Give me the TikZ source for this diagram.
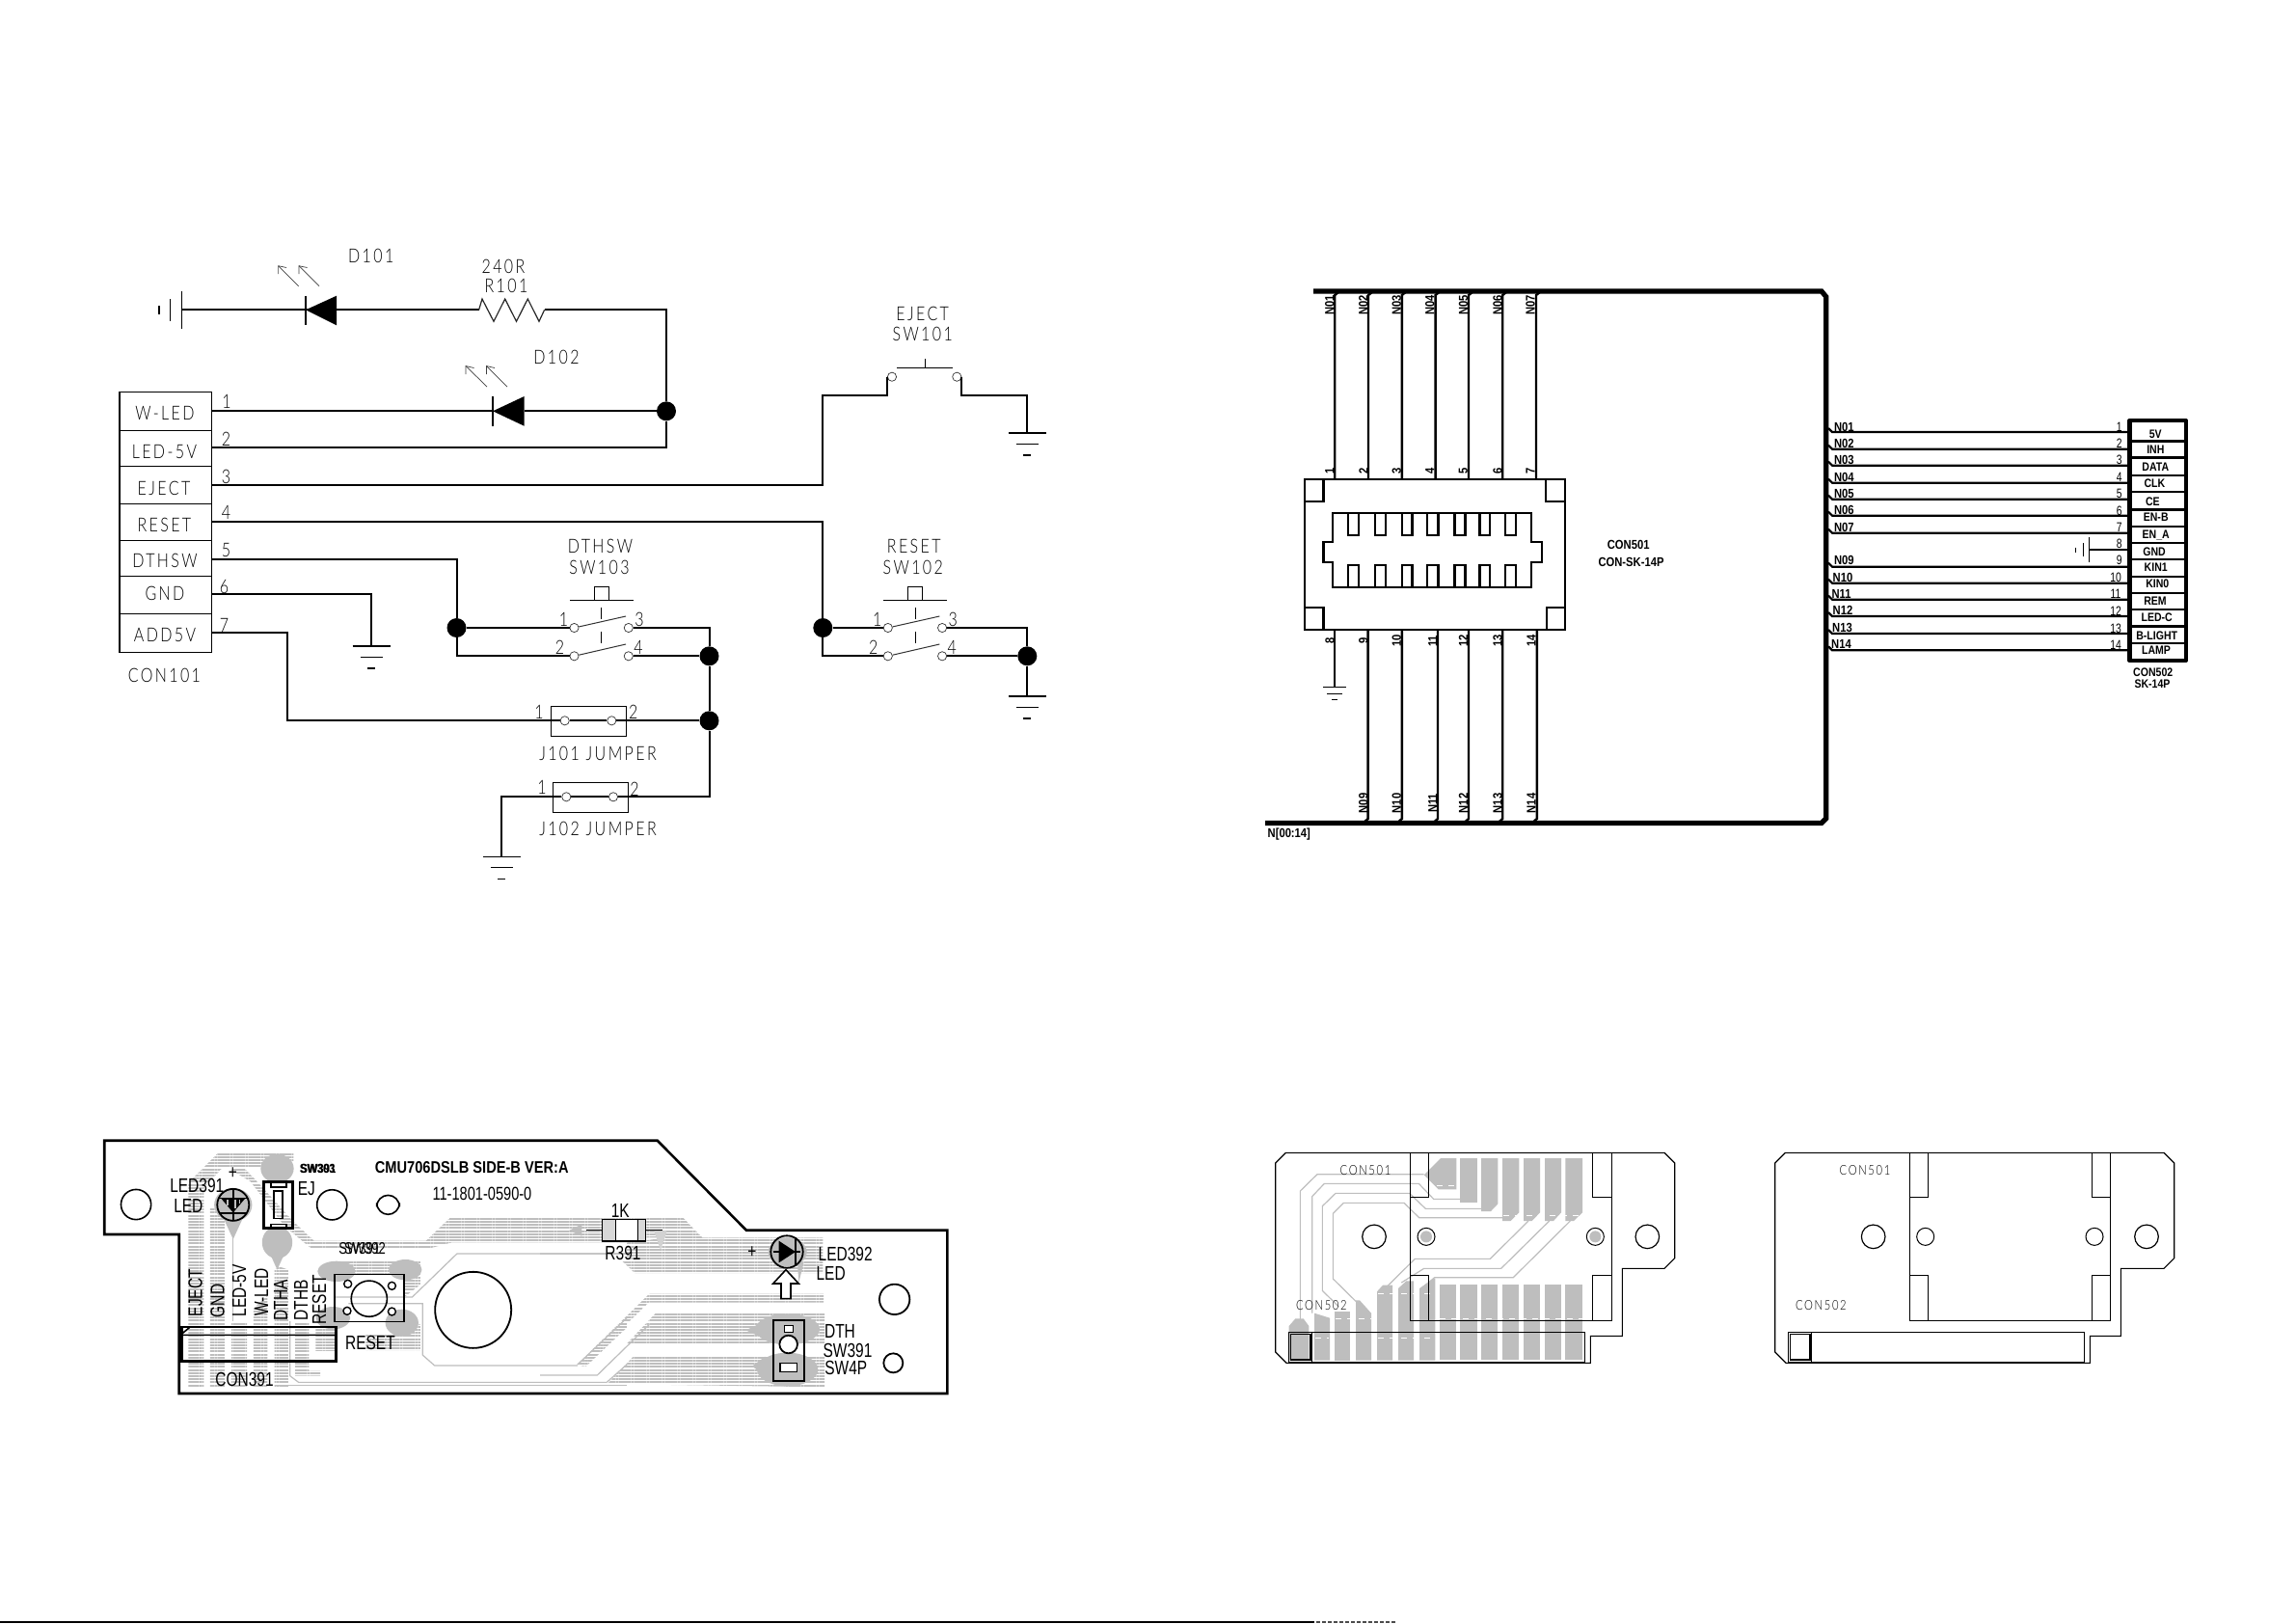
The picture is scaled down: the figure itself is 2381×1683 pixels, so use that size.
\documentclass[tikz,border=0pt]{standalone}
\usepackage{fontspec}
\usetikzlibrary{patterns.meta}
\newfontfamily\cadf[FakeStretch=.8,LetterSpace=12]{Lato Light}
\newfontfamily\bldf[FakeStretch=.85]{Liberation Sans}
\newfontfamily\pcbf[FakeStretch=.76]{Liberation Sans}
\definecolor{trace}{HTML}{BEBEBE}
\tikzset{
 wire/.style={line width=1pt,black},
 thin wire/.style={line width=.5pt,black},
 sym/.style={line width=.6pt,black},
 bus/.style={line width=2.6pt,black},
 dot/.style={circle,fill=black,draw=none,minimum size=10pt,inner sep=0pt},
 contact/.style={circle,draw=black!80,line width=.35pt,minimum size=4.6pt,inner sep=0pt},
 cad/.style={font=\cadf\fontsize{10}{11}\selectfont,inner sep=0pt,text=black},
 cadn/.style={font=\cadf\fontsize{10}{11}\selectfont,inner sep=0pt,text=black},
 bld/.style={font=\bldf\bfseries\fontsize{6.2}{7}\selectfont,inner sep=0pt},
 bldn/.style={font=\bldf\bfseries\fontsize{6.6}{7}\selectfont,inner sep=0pt},
 bldl/.style={font=\bldf\bfseries\fontsize{6.6}{7}\selectfont,inner sep=0pt},
 rnum/.style={font=\pcbf\fontsize{6.8}{7}\selectfont,inner sep=0pt},
 pcb/.style={font=\pcbf\fontsize{10.2}{11}\selectfont,inner sep=0pt},
 pcbh/.style={font=\bldf\bfseries\fontsize{8.6}{9}\selectfont,inner sep=0pt},
 pcbs/.style={font=\cadf\fontsize{7}{8}\selectfont,inner sep=0pt},
 hatch/.style={draw=none,pattern={Lines[angle=0,distance=1.6pt,line width=1pt]},pattern color=trace},
 pad/.style={fill=trace,draw=none},
 thintrace/.style={draw=trace,line width=.6pt},
 pcbline/.style={line width=.8pt,black},
 pcbthick/.style={line width=1.3pt,black},
}
\newcommand\gndsym[2]{% x, y of top bar
 \draw[sym] (#1-19.5,#2) -- (#1+19.5,#2);
 \draw[sym] (#1-11.5,#2+11.3) -- (#1+11.5,#2+11.3);
 \draw[sym] (#1-4,#2+23) -- (#1+4,#2+23);
}
\newcommand\dpdtsw[4]{% prefix, x-left contact, label1, label2
 \begin{scope}[shift={(#2,0)}]
  \node[contact] (#1a) at (0,651) {};
  \node[contact] (#1b) at (56.3,651) {};
  \node[contact] (#1c) at (0,680.3) {};
  \node[contact] (#1d) at (56.3,680.3) {};
  \draw[thin wire,black!80] (#1a) -- (53.5,639);
  \draw[thin wire,black!80] (#1c) -- (53.5,668);
  \draw[thin wire] (28.2,630) -- (28.2,642) (28.2,655) -- (28.2,667);
  \draw[thin wire] (-4.5,622.3) -- (61.2,622.3);
  \draw[thin wire] (20.8,622.3) |- (35.9,608.3) -- (35.9,622.3);
  \node[cad] at (27,566) {#3};
  \node[cad] at (26,588.3) {#4};
  \node[cadn] at (-11,642.7) {1};
  \node[cadn] at (67.5,642.7) {3};
  \node[cadn] at (-15,671.7) {2};
  \node[cadn] at (66.5,671) {4};
 \end{scope}
}
\begin{document}
\begin{tikzpicture}[x=.5pt,y=-.5pt]
\useasboundingbox (0,0) rectangle (2381,1683);
\fill[white] (0,0) rectangle (2381,1683);

%%% ---------- Schematic 1 ----------
\draw[thin wire,line width=.75pt] (124,406.7) rectangle (219.5,676.3);
\foreach \yy in {446.7,483.3,522.3,560.7,597.3,636.3}
  \draw[thin wire,line width=.75pt] (124,\yy) -- (219.5,\yy);
\foreach \ty/\tx/\lab in {428/171/W-LED,468.3/170.4/LED-5V,506.3/170/EJECT,544.7/170.4/RESET,581.3/171/DTHSW,615/171/GND,658.3/171/ADD5V,700/170.4/CON101}
  \node[cad] at (\tx,\ty) {\lab};
\foreach \tx/\ty/\lab in {235/416/1,234.4/455/2,234.4/494/3,234.4/531.7/4,234.4/570/5,232.5/608/6,232.5/648/7}
  \node[cadn] at (\tx,\ty) {\lab};
\coordinate (p1) at (219.5,426.3);
\coordinate (p2) at (219.5,464.3);
\coordinate (p3) at (219.5,502.7);
\coordinate (p4) at (219.5,541.3);
\coordinate (p5) at (219.5,580.3);
\coordinate (p6) at (219.5,616.3);
\coordinate (p7) at (219.5,656.3);
% D101 chain
\coordinate (bat) at (188.6,321.3);
\draw[sym] (188.6,302.3) -- (188.6,340.7);
\draw[sym] (176.3,310) -- (176.3,332.7);
\draw[sym] (165,317.3) -- (165,326);
\coordinate (d1k) at (317,321.3);
\coordinate (d1a) at (349,321.3);
\fill (d1k) -- (349,306.7) -- (349,337.3) -- cycle;
\draw[sym] (317,306.7) -- (317,337.3);
\draw[wire] (bat) -- (d1a);
\coordinate (r1a) at (496.6,321.3);
\coordinate (r1b) at (564.6,321.3);
\draw[wire] (d1a) -- (r1a);
\draw[sym,black!85] (r1a) -- (500,310) -- (512,333.3) -- (523.7,310) -- (535.5,333.3) -- (547.3,310) -- (559,333.3) -- (r1b);
\node[dot] (j1) at (691,426.3) {};
\draw[wire] (r1b) -- (691,321.3) -- (j1);
\draw[wire] (j1) -- (691,464.3) -- (p2);
\foreach \a/\b in {309.6/288.6,331/310}{
  \draw[line width=.35pt,black!75] (\a,296.7) -- (\b,275.7);
  \draw[line width=.35pt,black!75] (\b,284) -- (\b,275.7) -- (\b+8.5,277.5);
}
\node[cad] at (384.7,265.7) {D101};
\node[cad] at (522,276) {240R};
\node[cad] at (525,296) {R101};
% D102
\coordinate (d2k) at (511,426.3);
\coordinate (d2a) at (543.6,426.3);
\fill (d2k) -- (543.6,411) -- (543.6,441.7) -- cycle;
\draw[sym] (511,411) -- (511,441.7);
\draw[wire] (p1) -- (d2k);
\draw[wire] (d2a) -- (j1);
\foreach \a/\b in {505/483,526/504.5}{
  \draw[line width=.35pt,black!75] (\a,401) -- (\b,379.5);
  \draw[line width=.35pt,black!75] (\b,388) -- (\b,379.5) -- (\b+8.5,381.5);
}
\node[cad] at (577,370) {D102};
% GND pin 6
\coordinate (g6) at (385,670);
\draw[wire] (p6) -- (385,616.3) -- (g6);
\gndsym{385}{670}
% SW101
\node[contact] (s1a) at (925,390.7) {};
\node[contact] (s1b) at (992.3,390.7) {};
\draw[wire] (p3) -- (853.3,502.7) -- (853.3,410) -- (920,410) -- (920,390.7);
\draw[wire] (997.3,390.7) -- (997.3,410) -- (1065.3,410) -- (1065.3,449);
\gndsym{1065.3}{449}
\draw[thin wire] (930,381) -- (987.7,381);
\draw[thin wire] (959.3,372) -- (959.3,381);
\node[cad] at (956.7,325.7) {EJECT};
\node[cad] at (956.7,346.7) {SW101};
% SW103
\dpdtsw{sa}{595.5}{DTHSW}{SW103}
\node[dot] (j5) at (473.5,651) {};
\node[dot] (j3a) at (735.5,680.3) {};
\node[dot] (j3b) at (735.5,747.3) {};
\draw[wire] (p5) -- (473.5,580.3) -- (j5);
\draw[wire] (j5) -- (saa);
\draw[wire] (j5) -- (473.5,680.3) -- (sac);
\draw[wire] (sab) -- (735.5,651) -- (j3a);
\draw[wire] (sad) -- (j3a);
\draw[wire] (j3a) -- (j3b);
\draw[wire] (j3b) -- (735.5,826.3) -- (651.4,826.3);
% J101
\node[contact] (j1a) at (585.7,747.3) {};
\node[contact] (j1b) at (634.3,747.3) {};
\draw[thin wire,line width=.75pt] (571.4,732.3) rectangle (649.4,763.3);
\draw[wire] (p7) -- (298,656.3) -- (298,747.3) -- (j1a);
\draw[wire] (j1a) -- (j1b) -- (j3b);
\node[cadn] at (559,738) {1};
\node[cadn] at (656.7,738) {2};
\node[cad] at (620,781) {J101 JUMPER};
% J102
\node[contact] (j2a) at (587.3,826.3) {};
\node[contact] (j2b) at (636,826.3) {};
\draw[thin wire,line width=.75pt] (573.5,811.3) rectangle (651.4,842.3);
\draw[wire] (j2a) -- (j2b) -- (735.5,826.3);
\draw[wire] (j2a) -- (520.4,826.3) -- (520.4,888.3);
\gndsym{520.4}{888.3}
\node[cadn] at (562,816.7) {1};
\node[cadn] at (658,818) {2};
\node[cad] at (620,859.3) {J102 JUMPER};
% SW102
\dpdtsw{sb}{920.8}{RESET}{SW102}
\node[dot] (j4) at (853.3,651) {};
\node[dot] (j6) at (1065.3,680.3) {};
\draw[wire] (p4) -- (853.3,541.3) -- (j4);
\draw[wire] (j4) -- (sba);
\draw[wire] (j4) -- (853.3,680.3) -- (sbc);
\draw[wire] (sbb) -- (1065.3,651) -- (j6);
\draw[wire] (sbd) -- (j6);
\draw[wire] (j6) -- (1065.3,722);
\gndsym{1065.3}{722}

%%% ---------- Schematic 2 ----------
\draw[bus,line join=miter] (1362,302) -- (1889,302) -- (1893.7,307.7) -- (1893.7,848.6) -- (1889,853.4) -- (1312,853.4);
\draw[line width=1.1pt] (1353,496.7) rectangle (1623,653.3);
\draw[line width=1.1pt] (1353,520) -| (1372.4,496.7);
\draw[line width=1.1pt] (1623,520) -| (1603,496.7);
\draw[line width=1.1pt] (1353,630) -| (1372.4,653.3);
\draw[line width=1.1pt] (1623,630) -| (1604,653.3);
\draw[line width=1.1pt] (1381.9,532.3) -- (1588.3,532.3) -- (1588.3,562) -- (1599.3,562) -- (1599.3,583.3) -- (1588.3,583.3) -- (1588.3,609) -- (1381.9,609) -- (1381.9,583.3) -- (1372.4,583.3) -- (1372.4,562) -- (1381.9,562) -- cycle;
\foreach \a/\b in {1397.7/1408.7,1425.7/1437.2,1453.8/1464.5,1479.9/1491.4,1508.4/1519.5,1534.5/1545.2,1561/1572}{
  \draw[line width=1.1pt] (\a,532.3) rectangle (\b,554.8);
  \draw[line width=1.1pt] (\a,585.7) rectangle (\b,609);
}
\foreach \xx/\n/\tx/\lab/\num in {1384.2/1/1378.7/N01/1,1419/2/1413.9/N02/2,1453.8/3/1448.3/N03/3,1488.6/4/1482.7/N04/4,1523/5/1517.5/N05/5,1558.2/6/1553/N06/6,1593/7/1587/N07/7}{
  \coordinate (ct\n) at (\xx,496.7);
  \draw[wire,line width=1.2pt] (ct\n) -- (\xx,306) -- (\xx+5,302);
  \node[bldl,rotate=90] at (\tx,316.4) {\lab};
  \node[bldn,rotate=90] at (\tx,488) {\num};
}
\foreach \xx/\n/\tx/\lab/\num in {1418.6/9/1413.9/N09/9,1453.8/10/1448.3/N10/10,1491/11/1485.8/N11/11,1523/12/1517.5/N12/12,1558.2/13/1553/N13/13,1593.8/14/1588/N14/14}{
  \coordinate (cb\n) at (\xx,653.3);
  \draw[wire,line width=1.2pt] (cb\n) -- (\xx,849) -- (\xx-5,853.4);
  \node[bldl,rotate=90] at (\tx,832.8) {\lab};
  \node[bldn,rotate=90] at (\tx,664.7) {\num};
}
\node[bldn,rotate=90] at (1379,664.7) {8};
\coordinate (cb8) at (1384.2,653.3);
\draw[wire] (cb8) -- (1384.2,712);
\draw[thin wire] (1372.4,712) -- (1396,712) (1376,719) -- (1392,719) (1381,725.6) -- (1387.4,725.6);
\node[bldl] at (1688.7,565) {CON501};
\node[bldl] at (1691.5,583.3) {CON-SK-14P};
\node[bldl] at (1336.8,865.2) {N[00:14]};
% CON502
\draw[line width=2.2pt,line join=round] (2208.3,436) rectangle (2266.7,685);
\foreach \yy in {457.3,474.3,492.7,510,528.3,546,562.7,580,597.7,614.7,632,649.3,666.7}
  \draw[line width=1.2pt] (2208.3,\yy) -- (2266.7,\yy);
\foreach \tx/\ty/\lab in {2235.3/450/5V,2235.3/466/INH,2235.3/484.3/DATA,2234.3/501.7/CLK,2232.3/520.7/CE,2235.7/536.7/EN-B,2235.7/555/EN\_A,2234/572.3/GND,2235.7/588.7/KIN1,2237.3/605.7/KIN0,2235/623.3/REM,2236.7/640.7/LED-C,2236.7/659.3/B-LIGHT,2236/674.3/LAMP}
  \node[bld] at (\tx,\ty) {\lab};
\node[bld] at (2232.7,697.7) {CON502};
\node[bld] at (2232,709) {SK-14P};
\foreach \wy/\lx/\ly/\lab in {448/1912.3/442.7/N01,465.7/1912.3/459.7/N02,482.7/1912.3/477.3/N03,500.7/1912.3/494.7/N04,517.7/1912.3/512/N05,534.7/1912.3/529.3/N06,552.7/1912.3/546.7/N07,587.7/1912.3/581.3/N09,604.7/1911/598.7/N10,621.7/1909.5/616.3/N11,639/1911/633.3/N12,657/1910.5/650.7/N13,674.3/1909.5/668/N14}{
  \draw[wire,line width=1.1pt] (1896,\wy-4) -- (1900,\wy) -- (2208.3,\wy);
  \node[bldl] at (\lx,\ly) {\lab};
}
\foreach \ny/\lab in {442.7/1,460/2,477.3/3,494.7/4,512/5,529.7/6,546.7/7,564/8,581.3/9}
  \node[rnum] at (2197.7,\ny) {\lab};
\foreach \ny/\lab in {599.3/10,616.3/11,634/12,651.3/13,668.7/14}
  \node[rnum] at (2194,\ny) {\lab};
\coordinate (g8) at (2166.7,569.7);
\draw[wire] (2208.3,569.7) -- (g8);
\draw[thin wire] (2166.7,557) -- (2166.7,582.7) (2160,563) -- (2160,577) (2152,567.7) -- (2152,573.3);

%%% ---------- PCB A (long board) ----------
\begin{scope}[shift={(90,1170)},xscale=1/2.8,yscale=1/3]
 \path[hatch] (295,805) -- (340,805) -- (340,185) -- (392,125) -- (525,125) -- (525,103) -- (600,103) -- (600,78) -- (380,78) -- (295,170) -- cycle;
 \path[hatch] (358,805) -- (400,805) -- (400,250) -- (358,250) -- cycle;
 \path[hatch] (420,805) -- (465,805) -- (465,600) -- (420,600) -- cycle;
 \path[hatch] (484,805) -- (525,805) -- (525,520) -- (484,560) -- cycle;
 \path[hatch] (545,805) -- (585,805) -- (585,440) -- (560,430) -- (545,440) -- cycle;
 \path[hatch] (605,770) -- (678,770) -- (678,755) -- (645,755) -- (645,600) -- (605,600) -- cycle;
 \path[hatch] (665,612) -- (720,612) -- (720,690) -- (665,690) -- cycle;
 \path[hatch] (720,410) -- (970,410) -- (970,485) -- (922,525) -- (922,455) -- (720,455) -- cycle;
 \path[hatch] (810,690) -- (970,690) -- (970,610) -- (922,610) -- (922,640) -- (810,640) -- cycle;
 \path[hatch] (440,105) -- (490,160) -- (600,290) -- (660,350) -- (985,350) -- (1055,278) -- (1568,278) -- (1568,355) -- (1060,355) -- (1000,372) -- (650,372) -- (575,305) -- (475,165) -- (420,130) -- cycle;
 \fill[trace] (553,125) ellipse (48 and 45);
 \fill[trace] (553,355) ellipse (44 and 50);
 \fill[trace] (530,385) -- (576,385) -- (553,440) -- cycle;
 \fill[trace] (425,238) ellipse (55 and 52);
 \fill[trace] (395,275) -- (455,275) -- (425,345) -- cycle;
 \draw[thintrace] (425,330) -- (425,600);
 \fill[trace] (725,445) ellipse (55 and 32);
 \fill[trace] (925,440) ellipse (48 and 32);
 \fill[trace] (715,590) ellipse (50 and 35);
 \fill[trace] (915,605) ellipse (48 and 42);
 \draw[thintrace] (1568,390) -- (1075,390) -- (945,525) -- (720,525);
 \draw[thintrace] (760,545) -- (975,545) -- (975,705) -- (1010,738) -- (1425,738);
 \draw[thintrace] (590,600) -- (590,770) -- (615,790) -- (1510,790);
 \draw[thintrace] (1425,735) -- (1568,590) (1510,790) -- (1568,735);
 \draw[thintrace] (545,800) -- (1568,800);
 \path[hatch] (1425,735) -- (1450,740) -- (1568,620) -- (1568,590) -- cycle;
 \node[draw,line width=.8pt,circle,inner sep=0,minimum size=15.6pt] (h1) at (143,237) {};
 \node[draw,line width=.8pt,circle,inner sep=0,minimum size=15.6pt] (h2) at (712,238) {};
 \draw[pcbline,rounded corners=6pt] (842,208) rectangle (908,268);
 \node[draw,line width=.9pt,circle,inner sep=0,minimum size=16.5pt] (l1) at (425,238) {};
 \fill (390,218) -- (460,218) -- (425,262) -- cycle;
 \draw[pcbline] (425,190) -- (425,285);
 \draw[pcbline] (385,218) -- (465,218) (385,264) -- (465,264);
 \draw[trace,line width=.8pt] (408,222) -- (408,240) (432,222) -- (432,250) (444,222) -- (444,235);
 \draw[pcbthick] (514,167) rectangle (597,310);
 \draw[pcbline] (543,195) rectangle (568,280);
 \draw[pcbline,fill=white] (535,170) rectangle (580,183);
 \draw[pcbline,fill=white] (535,298) rectangle (580,308);
 \draw[pcbline] (719,455) rectangle (922,602);
 \node[draw,line width=.8pt,circle,inner sep=0,minimum size=18.6pt] (rsw) at (820,530) {};
 \foreach \a/\b in {758/484,886/490,756/568,886/570}
   \node[draw,line width=.7pt,circle,inner sep=0,minimum size=4pt,fill=white] at (\a,\b) {};
 \node[draw,line width=.9pt,circle,inner sep=0,minimum size=39.5pt] (bighole) at (1122,565) {};
 \draw[pcbthick] (275,618) rectangle (723,725);
 \draw[line width=1.6pt] (275,618) -- (275,725);
 \draw[pcbline] (275,643) -- (723,643) (275,640) -- (298,620);
 \node[pcbh] at (1118,122) {CMU706DSLB SIDE-B VER:A};
 \node[pcbh,font=\pcbf\fontsize{9.6}{10}\selectfont] at (1148,204) {11-1801-0590-0};
 \node[pcb] at (320,177) {LED391};
 \node[pcb] at (295,240) {LED};
 \node[pcb] at (424,140) {+};
 \node[pcb] at (638,188) {EJ};
 \node[bldl] at (670,125) {SW303};
 \node[bldl] at (672,125) {SW391};
 \node[pcb,font=\pcbf\fontsize{8.6}{9}\selectfont] at (792,375) {SW391};
 \node[pcb,font=\pcbf\fontsize{8.6}{9}\selectfont] at (808,375) {SW392};
 \node[pcb] at (823,667) {RESET};
 \node[pcb] at (458,780) {CON391};
 \foreach \tx/\ty/\lab in {315/512/EJECT,380/537/GND,443/505/LED-5V,507/510/W-LED,563/535/DTHA,622/535/DTHB,675/533/RESET}
   \node[pcb,rotate=90] at (\tx,\ty) {\lab};
\end{scope}
\begin{scope}[shift={(560,1170)},xscale=1/3,yscale=1/3]
 \path[hatch] (270,278) -- (445,278) -- (505,340) -- (880,340) -- (880,450) -- (295,450) -- (255,412) -- (270,412) -- (270,355) -- (400,340) -- (270,340) -- cycle;
 \path[hatch] (340,515) -- (882,515) -- (882,542) -- (338,542) -- (135,740) -- (115,735) -- cycle;
 \path[hatch] (360,575) -- (885,575) -- (885,670) -- (270,670) -- cycle;
 \path[hatch] (290,710) -- (885,710) -- (885,805) -- (210,795) -- cycle;
 \draw[thintrace] (270,390) -- (0,390) (0,768) -- (178,768) -- (340,610);
 \fill[trace] (770,385) ellipse (60 and 45);
 \fill[trace] (770,625) ellipse (100 and 48);
 \fill[trace] (770,750) ellipse (95 and 52);
 \fill[trace] (640,628) -- (700,600) -- (700,655) -- cycle;
 \fill[trace] (660,740) -- (700,710) -- (700,770) -- cycle;
 \fill[trace] (90,318) -- (130,298) -- (130,335) -- cycle;
 \fill[trace] (800,400) -- (820,420) -- (805,480) -- cycle;
 \fill[trace!70] (355,320) -- (395,320) -- (375,378) -- cycle;
 \fill[white] (236,285) rectangle (304,350);
 \fill[trace!60] (193,284) rectangle (235,351);
 \fill[trace!60] (305,284) rectangle (328,351);
 \draw[pcbline] (193,284) rectangle (328,351);
 \draw[pcbline] (235,284) -- (235,351) (305,284) -- (305,351);
 \draw[pcbline] (145,317) -- (193,317) (328,317) -- (380,317);
 \node[pcb] at (250,255) {1K};
 \node[pcb] at (258,388) {R391};
 \node[draw,line width=.9pt,circle,inner sep=0,minimum size=16.7pt] (l2) at (768,384) {};
 \fill (743,350) -- (743,418) -- (795,384) -- cycle;
 \draw[pcbline] (795,340) -- (795,428) (725,384) -- (810,384);
 \node[pcb] at (660,385) {+};
 \node[pcb] at (950,390) {LED392};
 \node[pcb] at (905,450) {LED};
 \draw[pcbline,fill=white] (765,440) -- (805,483) -- (780,483) -- (780,530) -- (750,530) -- (750,483) -- (725,483) -- cycle;
 \node[draw,line width=.9pt,circle,inner sep=0,minimum size=15.7pt] (h3) at (1103,532) {};
 \node[draw,line width=.9pt,circle,inner sep=0,minimum size=10pt] (h4) at (1099,730) {};
 \draw[pcbthick,line width=1pt] (727,596) rectangle (823,785);
 \draw[pcbline,fill=white] (760,614) rectangle (788,634);
 \node[draw,line width=.9pt,circle,inner sep=0,minimum size=9.3pt,fill=white] (s4) at (773,672) {};
 \draw[pcbline,fill=white] (747,730) rectangle (800,758);
 \node[pcb] at (933,632) {DTH};
 \node[pcb] at (957,690) {SW391};
 \node[pcb] at (952,745) {SW4P};
\end{scope}
\draw[pcbthick] (108.2,1182.7) -- (681.7,1182.7) -- (774,1275.7) -- (982.3,1275.7) -- (982.3,1445) -- (185.7,1445) -- (185.7,1280) -- (108.2,1280) -- cycle;

%%% ---------- Board B (with copper) ----------
\begin{scope}[shift={(1310,1180)},xscale=1/3,yscale=1/3]
 \foreach \a/\b in {549/601,612/665,678/730,744/796,810/861,876/927,940/993}
   \fill[trace] (\a,457) rectangle (\b,690);
 \fill[trace] (486,468) -- (530,437) -- (535,437) -- (535,692) -- (486,692) -- cycle;
 \fill[trace] (420,468) -- (445,445) -- (468,445) -- (468,692) -- (420,692) -- cycle;
 \fill[trace] (354,478) -- (372,458) -- (402,458) -- (402,692) -- (354,692) -- cycle;
 \fill[trace] (288,505) -- (300,505) -- (336,545) -- (336,692) -- (288,692) -- cycle;
 \fill[trace] (222,540) -- (270,540) -- (270,692) -- (222,692) -- cycle;
 \fill[trace] (159,545) -- (207,560) -- (207,692) -- (159,692) -- cycle;
 \fill[trace] (80,585) -- (100,562) -- (125,562) -- (142,585) -- (142,692) -- (80,692) -- cycle;
 \fill[trace] (500,115) -- (552,63) -- (601,63) -- (601,160) -- (545,160) -- cycle;
 \fill[trace] (612,63) rectangle (666,200);
 \fill[trace] (678,63) -- (730,63) -- (730,205) -- (708,228) -- (678,228) -- cycle;
 \fill[trace] (744,63) -- (796,63) -- (796,232) -- (770,258) -- (744,258) -- cycle;
 \fill[trace] (810,63) -- (861,63) -- (861,232) -- (836,258) -- (810,258) -- cycle;
 \fill[trace] (876,63) -- (927,63) -- (927,232) -- (903,258) -- (876,258) -- cycle;
 \fill[trace] (940,63) -- (993,63) -- (993,232) -- (966,258) -- (940,258) -- cycle;
 \draw[white,line width=.4pt,dashed] (550,562) -- (993,562) (358,484) -- (530,484) (226,562) -- (336,562) (162,622) -- (205,622) (358,622) -- (530,622) (748,241) -- (980,241) (540,148) -- (598,148);
 \draw[thintrace] (500,113) -- (168,113) -- (115,165) -- (115,565);
 \draw[thintrace] (612,190) -- (530,190) -- (484,142) -- (190,142) -- (152,182) -- (152,545);
 \draw[thintrace] (678,220) -- (505,220) -- (455,172) -- (225,172) -- (184,212) -- (184,475) -- (235,525);
 \draw[thintrace] (744,248) -- (485,248) -- (438,202) -- (250,202) -- (217,235) -- (217,438) -- (290,510);
 \draw[thintrace] (825,258) -- (706,376) -- (472,376) -- (385,462);
 \draw[thintrace] (890,258) -- (740,406) -- (500,406) -- (430,450);
 \draw[thintrace] (955,258) -- (778,434) -- (533,434) -- (490,470);
 \fill[trace] (507,307) circle [radius=18];
 \fill[trace] (1033,307) circle [radius=18];
 \draw[line width=.6pt] (70,46) -- (1248,46) -- (1280,78) -- (1280,374) -- (1248,406) -- (1117,406) -- (1117,616) -- (1018,616) -- (1018,700) -- (72,700) -- (38,666) -- (38,78) -- cycle;
 \draw[line width=.6pt] (458,46) rectangle (1085,568);
 \draw[line width=.6pt] (458,185) -| (515,46) (1085,185) -| (1024,46) (458,427) -| (515,568) (1085,427) -| (1024,568);
 \node[draw,line width=.6pt,circle,inner sep=0,minimum size=12.3pt] (b1) at (345,307) {};
 \node[draw,line width=.6pt,circle,inner sep=0,minimum size=12.3pt] (b2) at (1195,307) {};
 \node[draw,line width=.5pt,circle,inner sep=0,minimum size=9pt] (b3) at (507,307) {};
 \node[draw,line width=.5pt,circle,inner sep=0,minimum size=9pt] (b4) at (1033,307) {};
 \draw[line width=.6pt] (79,604) rectangle (1000,697);
 \draw[line width=.8pt] (79,604) rectangle (152,697);
 \draw[line width=.6pt] (85,610) rectangle (147,690);
 \node[pcbs] at (318,100) {CON501};
 \node[pcbs] at (181,520) {CON502};
\end{scope}

%%% ---------- Board C (outline) ----------
\begin{scope}[shift={(1830,1180)},xscale=1/3,yscale=1/3]
 \draw[line width=.6pt] (64,46) -- (1242,46) -- (1274,78) -- (1274,374) -- (1242,406) -- (1108,406) -- (1108,616) -- (1012,616) -- (1012,700) -- (66,700) -- (32,666) -- (32,78) -- cycle;
 \draw[line width=.6pt] (452,46) rectangle (1076,568);
 \draw[line width=.6pt] (452,185) -| (509,46) (1076,185) -| (1018,46) (452,427) -| (509,568) (1076,427) -| (1018,568);
 \node[draw,line width=.6pt,circle,inner sep=0,minimum size=12.3pt] (c1) at (338,307) {};
 \node[draw,line width=.6pt,circle,inner sep=0,minimum size=12.3pt] (c2) at (1188,307) {};
 \node[draw,line width=.5pt,circle,inner sep=0,minimum size=9pt] (c3) at (500,307) {};
 \node[draw,line width=.5pt,circle,inner sep=0,minimum size=9pt] (c4) at (1026,307) {};
 \draw[line width=.6pt] (73,604) rectangle (994,697);
 \draw[line width=.8pt] (73,604) rectangle (146,697);
 \draw[line width=.6pt] (79,610) rectangle (141,690);
 \node[pcbs] at (312,100) {CON501};
 \node[pcbs] at (175,520) {CON502};
\end{scope}

% bottom edge rule
\draw[line width=1pt] (0,1682) -- (1363,1682);
\draw[line width=1pt,black!70,dash pattern=on 2pt off 1pt] (1365,1682) -- (1448,1682);
\end{tikzpicture}
\end{document}
